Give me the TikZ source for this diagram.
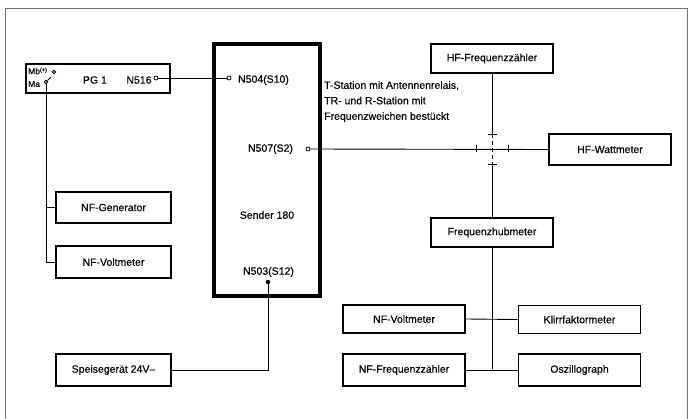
\documentclass[tikz,border=0pt]{standalone}
\usepackage{fontspec}
\setmainfont{Liberation Sans}[FakeBold=0.35]
\newfontfamily\labelfont{Liberation Sans}[FakeBold=0.35]
\begin{document}
\begin{tikzpicture}[x=1pt,y=-1pt,
  lbl/.style={font=\labelfont\fontsize{10.5}{12}\selectfont, inner sep=0pt},
  devbox/.style={draw, line width=1.6pt, font=\labelfont\fontsize{10.5}{12}\selectfont,
    minimum width=122pt, minimum height=30pt, inner sep=0pt},
  smallbox/.style={devbox, minimum width=115pt},
  wire/.style={line width=0.9pt},
  term/.style={circle, draw, line width=0.8pt, fill=white, minimum size=4pt, inner sep=0pt},
  dot/.style={circle, fill=black, minimum size=4.5pt, inner sep=0pt},
  tick/.style={line width=0.9pt}]
\useasboundingbox (0,0) rectangle (688,419);

% outer frame (open at the bottom)
\draw[line width=0.8pt, black!55] (5,419) -- (5,8) -- (687,8) -- (687,419);

% signal generator PG 1 with modulation switch
\node[draw, line width=1.6pt, minimum width=144pt, minimum height=29pt, inner sep=0pt] (pg) at (98,78.5) {};
\node[lbl] (pgname) at (95,80) {PG 1};
\node[lbl] (n516lbl) at (139,80) {N516};
\node[anchor=west, inner sep=0pt, font=\labelfont\fontsize{8.5}{9}\selectfont] (mblbl) at (28,71)
  {Mb\raisebox{2.5pt}{\fontsize{5.5}{6}\selectfont(+)}};
\node[anchor=west, inner sep=0pt, font=\labelfont\fontsize{8.5}{9}\selectfont] (malbl) at (28,84) {Ma};
\node[term, minimum size=3.5pt] (mb) at (54,72) {};
\node[term, minimum size=3.5pt] (ma) at (46,82) {};
\coordinate (blade) at (51,77);
\draw[wire] (ma) -- (blade);
\node[term, minimum size=4pt] (n516) at (156,78) {};

% transmitter
\node[draw, line width=3.2pt, minimum width=106pt, minimum height=252pt, inner sep=0pt] (sender) at (267,170) {};
\node[lbl] (n504lbl) at (263.5,80) {N504(S10)};
\node[term] (n504) at (229,78) {};
\node[lbl] (n507lbl) at (270.5,149) {N507(S2)};
\node[term] (n507) at (308,149) {};
\node[lbl] (sendname) at (267,215) {Sender 180};
\node[lbl] (n503lbl) at (268.5,272) {N503(S12)};
\node[dot] (n503) at (268,282) {};

% station note
\node[anchor=north west, align=left, inner sep=0pt,
  font=\labelfont\fontsize{10.5}{15.5}\selectfont] (note) at (324,81)
  {T-Station mit Antennenrelais,\\TR- und R-Station mit\\Frequenzweichen bestückt};

% HF side
\node[devbox, minimum height=29pt] (hff) at (492,58.5) {HF-Frequenzzähler};
\node[devbox, minimum height=31pt] (hfw) at (610,149.5) {HF-Wattmeter};
\node[devbox, minimum height=29pt] (fhm) at (492,232.5) {Frequenzhubmeter};

% measuring devices at the demodulator output
\node[devbox, minimum height=28pt] (nfvr) at (404,319) {NF-Voltmeter};
\node[devbox, minimum height=28pt] (kfm) at (579.5,319.5) {Klirrfaktormeter};
\node[devbox, minimum height=32pt] (nffr) at (404,370) {NF-Frequenzzähler};
\node[devbox, minimum height=32pt] (osz) at (579.5,370) {Oszillograph};

% left column
\node[smallbox, minimum height=31pt] (nfg) at (113.5,207.5) {NF-Generator};
\node[smallbox, minimum height=32pt] (nfvl) at (113.5,262) {NF-Voltmeter};
\node[smallbox, minimum height=32pt] (spg) at (113.5,370) {Speisegerät 24V–};

% connections
\draw[wire] (n516) -- (n504);
\draw[wire] (ma.south) |- (nfvl.west);
\draw[wire] (nfg.west) -- (nfg.west -| ma.south);
\draw[wire] (n503) |- (spg.east);

% antenna line with the diplexer crossing
\coordinate (ct) at (492,134);
\coordinate (cb) at (492,164);
\draw[wire] (n507) -- (hfw.west);
\draw[tick] (476,145.5) -- (476,152.5);
\draw[tick] (508,145.5) -- (508,152.5);
\draw[wire] (hff.south) -- (ct);
\draw[wire, dash pattern=on 4pt off 3pt] (ct) -- (cb);
\draw[wire] (cb) -- (fhm.north);
\draw[tick] (487.5,134) -- (496.5,134);
\draw[tick] (487.5,164) -- (496.5,164);

% demodulator output distribution
\coordinate (jb) at (492,369);
\draw[wire] (fhm.south) -- (jb);
\draw[wire] (nfvr.east) -- (kfm.west);
\draw[wire] (nffr.east) -- (osz.west);
\end{tikzpicture}
\end{document}
